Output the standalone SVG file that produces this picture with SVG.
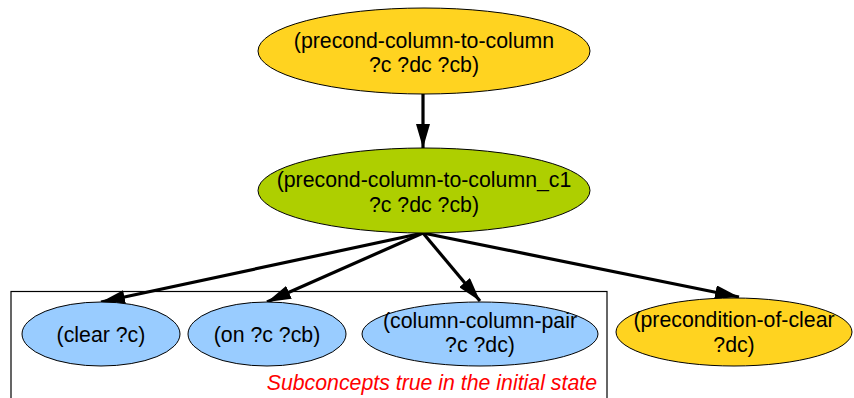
<svg xmlns="http://www.w3.org/2000/svg" width="854" height="398" viewBox="0 0 854 398">
<defs>
<style>
.n{stroke:#000;stroke-width:1}
.gold{fill:#FFD320}
.green{fill:#AECF00}
.blue{fill:#99CCFF}
text{font-family:"Liberation Sans",Arial,sans-serif;font-size:21.3px;fill:#000;text-anchor:middle}
.lbl{fill:#FF0000;font-style:italic;text-anchor:end}
.e{stroke:#000;stroke-width:3.2;fill:none;marker-end:url(#ah)}
</style>
<marker id="ah" viewBox="0 0 24 14" refX="24" refY="7" markerWidth="24" markerHeight="14" markerUnits="userSpaceOnUse" orient="auto">
<path d="M0,0 L24,7 L0,14 Z" fill="#000"/>
</marker>
</defs>
<rect x="0" y="0" width="854" height="398" fill="#fff"/>
<g id="cluster">
<rect x="11" y="291.5" width="596" height="120" fill="none" stroke="#000" stroke-width="1.2"/>
<text class="lbl" x="597" y="390">Subconcepts true in the initial state</text>
</g>
<g id="connectors">
<line class="e" x1="423" y1="94" x2="423" y2="148"/>
<line class="e" x1="423" y1="233" x2="101" y2="302"/>
<line class="e" x1="423" y1="233" x2="267" y2="302"/>
<line class="e" x1="423" y1="233" x2="480" y2="301"/>
<line class="e" x1="423" y1="233" x2="739" y2="297"/>
</g>
<g id="n1">
<ellipse class="n gold" cx="424" cy="51" rx="166" ry="43"/>
<text x="424" y="48">(precond-column-to-column</text>
<text x="424" y="72">?c ?dc ?cb)</text>
</g>
<g id="n2">
<ellipse class="n green" cx="424" cy="190.5" rx="166" ry="42.5"/>
<text x="424" y="187">(precond-column-to-column_c1</text>
<text x="424" y="212">?c ?dc ?cb)</text>
</g>
<g id="n3">
<ellipse class="n blue" cx="101" cy="334" rx="79" ry="32"/>
<text x="101" y="342">(clear ?c)</text>
</g>
<g id="n4">
<ellipse class="n blue" cx="267" cy="334" rx="79" ry="32"/>
<text x="267" y="342">(on ?c ?cb)</text>
</g>
<g id="n5">
<ellipse class="n blue" cx="480" cy="334" rx="118" ry="32"/>
<text x="480" y="328">(column-column-pair</text>
<text x="480" y="352">?c ?dc)</text>
</g>
<g id="n6">
<ellipse class="n gold" cx="734" cy="332" rx="118" ry="34"/>
<text x="734" y="327">(precondition-of-clear</text>
<text x="734" y="352">?dc)</text>
</g>
</svg>
